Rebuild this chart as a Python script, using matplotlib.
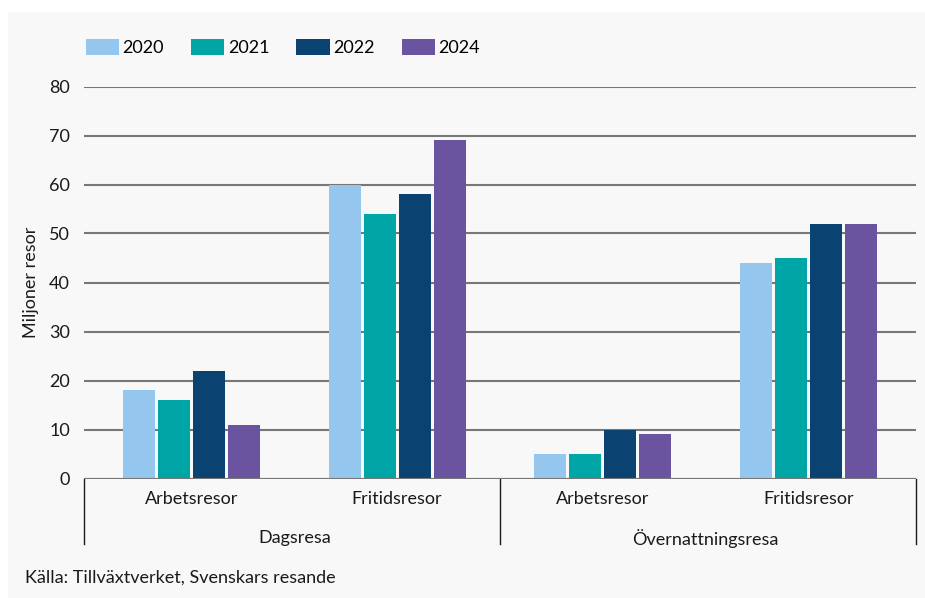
import matplotlib
matplotlib.use("Agg")
import matplotlib.pyplot as plt
import matplotlib.transforms as mtransforms
from matplotlib.patches import Rectangle, Patch
from matplotlib.lines import Line2D
import numpy as np

plt.rcParams['font.family'] = ['Lato', 'DejaVu Sans']

# ---- data ----
years = ["2020", "2021", "2022", "2024"]
subcats = ["Arbetsresor", "Fritidsresor", "Arbetsresor", "Fritidsresor"]
groups = ["Dagsresa", "Övernattningsresa"]
v2020 = [18, 60, 5, 44]
v2021 = [16, 54, 5, 45]
v2022 = [22, 58, 10, 52]
v2024 = [11, 69, 9, 52]
series = [v2020, v2021, v2022, v2024]
colors = ["#94c6ee", "#00a6a6", "#0a4272", "#6a54a0"]
yticks = [0, 10, 20, 30, 40, 50, 60, 70, 80]
ylabel = "Miljoner resor"
source = "Källa: Tillväxtverket, Svenskars resande"

W, H = 925, 598
fig = plt.figure(figsize=(W / 100, H / 100), dpi=100, facecolor="white")
fig.patches.append(Rectangle((8 / W, 0), 1, 1 - 12 / H, transform=fig.transFigure,
                             facecolor="#f8f8f8", edgecolor="none", zorder=-10))

ax = fig.add_axes([84 / W, 119.5 / H, 832 / W, 392 / H])
ax.set_facecolor("none")
for s in ax.spines.values():
    s.set_visible(False)

unit = 205.67  # px per category
step = 35 / unit
width = 32 / unit
x = np.arange(len(subcats))
for i, (vals, c) in enumerate(zip(series, colors)):
    ax.bar(x + (i - 1.5) * step, vals, width=width, color=c, zorder=2, label=years[i])

half = 107.5 / unit
ax.set_xlim(-half, len(subcats) - 1 + half)
ax.set_ylim(0, 80)
ax.set_yticks(yticks)
ax.set_yticklabels([str(t) for t in yticks], fontsize=13, color="#1a1a1a")
ax.tick_params(axis="y", length=0, pad=10)
ax.set_xticks([])
ax.set_axisbelow(True)
ax.yaxis.grid(True, color="#777777", linewidth=1.5)
ax.axhline(0, color="#777777", linewidth=1.5, zorder=3)

ax.set_ylabel(ylabel, fontsize=13, color="#1a1a1a")
ax.yaxis.set_label_coords(-45 / 832, 0.5)

trans = mtransforms.blended_transform_factory(ax.transData, ax.transAxes)
axh = 392.0
for xi, lab in zip(x, subcats):
    ax.text(xi, -20 / axh, lab, transform=trans, ha="center", va="center",
            fontsize=13, color="#1a1a1a")
for gi, g in enumerate(groups):
    ax.text(0.5 + 2 * gi, -60 / axh, g, transform=trans, ha="center", va="center",
            fontsize=13, color="#1a1a1a")
xl = ax.get_xlim()
for xs in [xl[0], 1.5, xl[1]]:
    ax.add_line(Line2D([xs, xs], [0, -65 / axh], transform=trans, color="#1a1a1a",
                       linewidth=1.0, clip_on=False))

handles = [Patch(facecolor=c, edgecolor="none") for c in colors]
fig.legend(handles, years, loc="center left", bbox_to_anchor=(86 / W, 1 - 47.5 / H),
           ncol=4, frameon=False, fontsize=13, handlelength=1.83, handleheight=1.05,
           handletextpad=0.2, columnspacing=1.5, borderpad=0, borderaxespad=0)

fig.text(25 / W, 1 - 578 / H, source, fontsize=13, color="#1a1a1a", ha="left", va="center")

fig.savefig("out.png", dpi=100, facecolor=fig.get_facecolor())
